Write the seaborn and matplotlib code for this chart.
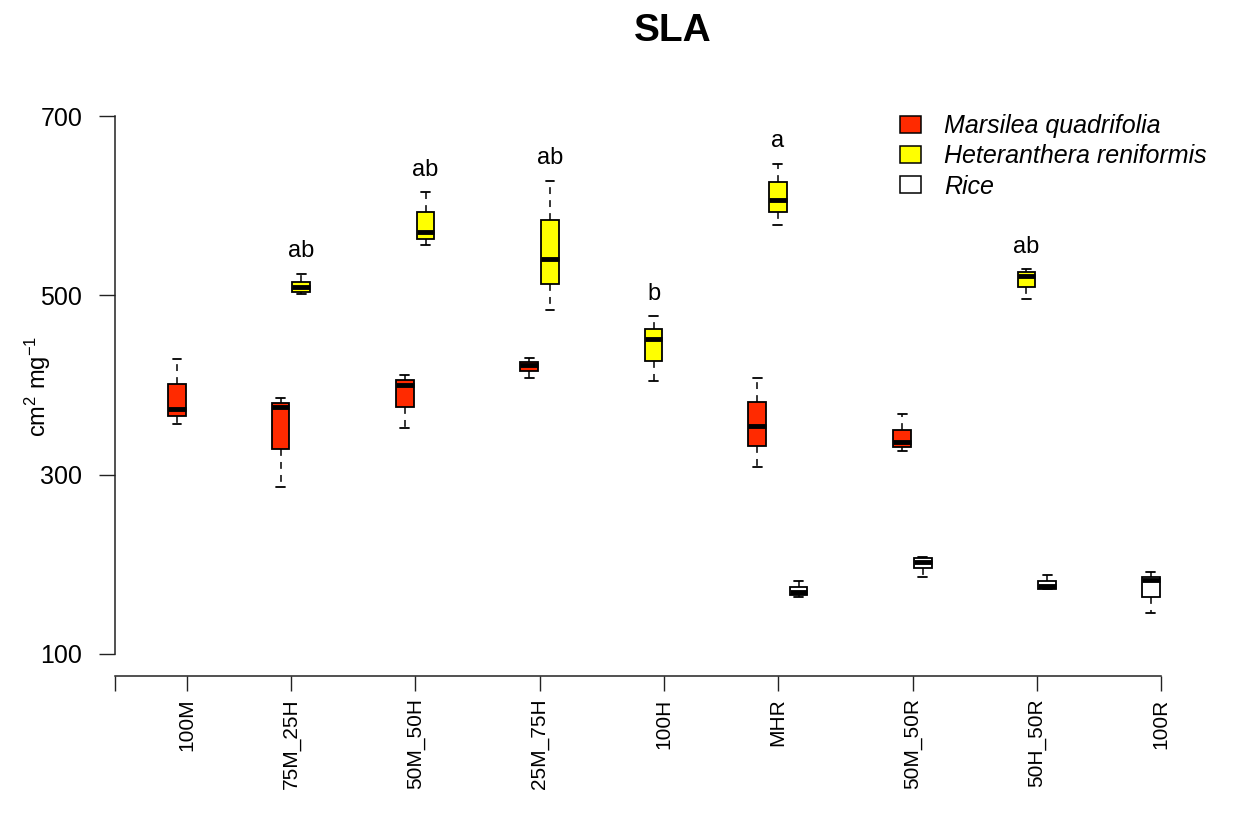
import numpy as np
import pandas as pd
import matplotlib
matplotlib.use("Agg")
import matplotlib.pyplot as plt
import seaborn as sns
from matplotlib.patches import Patch

# ---------------- data ----------------
groups = ["100M", "75M_25H", "50M_50H", "25M_75H", "100H", "MHR",
          "50M_50R", "50H_50R", "100R"]
species = ["Marsilea quadrifolia", "Heteranthera reniformis", "Rice"]

# five-number summaries: min, Q1, median, Q3, max
marsilea_groups = ["100M", "75M_25H", "50M_50H", "25M_75H", "MHR", "50M_50R"]
marsilea_values = [
    [357, 365, 373, 401, 429],
    [286, 329, 375, 380, 385],
    [352, 375, 400, 406, 411],
    [408, 416, 422, 426, 430],
    [309, 332, 354, 381, 408],
    [326, 331, 336, 350, 368],
]
heter_groups = ["75M_25H", "50M_50H", "25M_75H", "100H", "MHR", "50H_50R"]
heter_values = [
    [501, 504, 509, 515, 524],
    [556, 563, 571, 593, 615],
    [484, 513, 541, 584, 628],
    [404, 427, 451, 463, 477],
    [578, 593, 606, 626, 647],
    [496, 509, 522, 526, 529],
]
heter_letters = ["ab", "ab", "ab", "b", "a", "ab"]
rice_groups = ["MHR", "50M_50R", "50H_50R", "100R"]
rice_values = [
    [164, 166, 169, 175, 181],
    [186, 196, 203, 207, 208],
    [172, 173, 176, 181, 188],
    [146, 164, 183, 186, 191],
]

# ---------------- layout ----------------
group_start = dict(zip(groups, [0, 5, 11, 17, 23, 28, 35, 41, 47]))
tick_pos = [0.5, 5.5, 11.5, 17.5, 23.5, 29, 35.5, 41.5, 47.5]
colors = ["#ff2a00", "#ffff00", "#ffffff"]

series = [(species[0], marsilea_groups, marsilea_values),
          (species[1], heter_groups, heter_values),
          (species[2], rice_groups, rice_values)]

# slot index of each species inside its group
members = {g: [] for g in groups}
for sp, gs, _ in series:
    for g in gs:
        members[g].append(sp)

rows = []
for sp, gs, vals in series:
    for g, v in zip(gs, vals):
        pos = group_start[g] + members[g].index(sp)
        for val in v:
            rows.append({"pos": pos, "species": sp, "value": val, "group": g})
df = pd.DataFrame(rows)

# ---------------- style ----------------
sns.set_style("white")
plt.rcParams["font.family"] = ["Liberation Sans", "DejaVu Sans"]
plt.rcParams["mathtext.fontset"] = "custom"
plt.rcParams["mathtext.rm"] = "Liberation Sans"
plt.rcParams["mathtext.it"] = "Liberation Sans:italic"
plt.rcParams["mathtext.bf"] = "Liberation Sans:bold"
plt.rcParams["text.color"] = "black"
plt.rcParams["xtick.color"] = "black"
plt.rcParams["ytick.color"] = "black"

W, H = 1237, 816
fig = plt.figure(figsize=(W / 100, H / 100), dpi=100)
left_px, right_px, top_px, bot_px = 114.8, 1231, 94.5, 675.5
ax = fig.add_axes([left_px / W, 1 - bot_px / H,
                   (right_px - left_px) / W, (bot_px - top_px) / H])

sns.boxplot(data=df, x="pos", y="value", hue="species", hue_order=species,
            palette=dict(zip(species, colors)), native_scale=True,
            dodge=False, whis=(0, 100), width=0.85, saturation=1,
            linecolor="black", linewidth=1.3, showfliers=False,
            legend=False, ax=ax,
            medianprops=dict(linewidth=3.5, color="black", solid_capstyle="butt"),
            whiskerprops=dict(linestyle=(0, (4.5, 4)), linewidth=1.1),
            capprops=dict(linewidth=1.3))

ax.set_xlim(-3, 50.87)
ax.set_ylim(76, 724)

# significance letters above Heteranthera boxes
for g, v, lab in zip(heter_groups, heter_values, heter_letters):
    pos = group_start[g] + members[g].index(species[1])
    ax.text(pos, max(v) + 25, lab, ha="center", va="center", fontsize=17,
            color="black")

# axes
ax.set_xticks([-3] + tick_pos)
ax.set_xticklabels([""] + groups, rotation=90)
ax.set_yticks([100, 300, 500, 700])
ax.tick_params(axis="x", labelsize=15, length=10.5, width=1, pad=6,
               direction="out", color="#222222", labelcolor="black")
ax.tick_params(axis="y", labelsize=18, length=11.5, width=1, pad=12,
               direction="out", color="#222222", labelcolor="black")
ax.tick_params(bottom=True, left=True)
ax.set_xlabel("")
ax.set_ylabel("")
sns.despine(ax=ax)
ax.spines["left"].set_bounds(100, 700)
ax.spines["bottom"].set_bounds(-3, 47.5)
for s in ("left", "bottom"):
    ax.spines[s].set_color("#222222")
    ax.spines[s].set_linewidth(1.1)

# titles
fig.text(673 / W, 1 - 31 / H, "SLA", ha="center", va="center",
         fontsize=28, fontweight="bold", color="black")
fig.text(38 / W, 1 - 386 / H, r"cm$^{2}$ mg$^{-1}$", ha="center",
         va="center", rotation=90, fontsize=17, color="black")

# legend
handles = [Patch(facecolor=c, edgecolor="black", linewidth=1.1) for c in colors]
leg = fig.legend(handles, species, loc="upper left",
                 bbox_to_anchor=(900 / W, 1 - 114 / H), frameon=False,
                 prop=dict(style="italic", size=18), borderpad=0,
                 borderaxespad=0, handlelength=0.85, handleheight=0.65,
                 handletextpad=0.9, labelspacing=0.25)
for t in leg.get_texts():
    t.set_color("black")

fig.savefig("out.png", dpi=100)
